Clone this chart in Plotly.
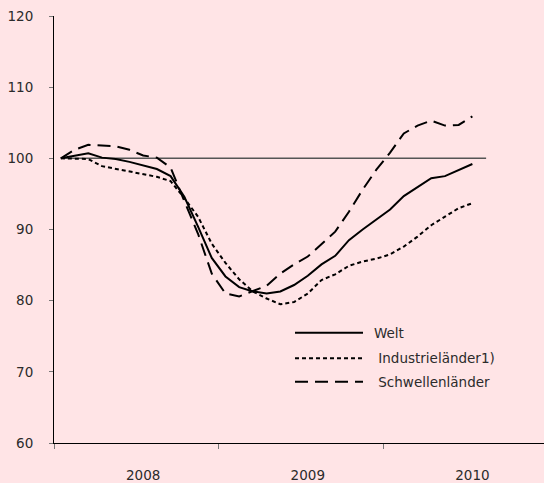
import plotly.graph_objects as go

# Monthly index values, Jan 2008 .. Jul 2010 (2008 = 100 start)
months = list(range(31))
welt = [100, 100.4, 100.7, 100.1, 99.9, 99.5, 99.0, 98.5, 97.5, 94.6, 90.4, 86.0, 83.4, 81.9,
        81.3, 81.0, 81.3, 82.2, 83.5, 85.1, 86.3, 88.5, 90.0, 91.4, 92.8, 94.7, 95.9, 97.2,
        97.5, 98.3, 99.2]
industrie = [100, 100.0, 99.9, 98.9, 98.5, 98.2, 97.8, 97.4, 96.8, 94.4, 91.8, 88.0, 85.3, 83.0,
             81.3, 80.3, 79.5, 79.8, 81.0, 82.9, 83.7, 84.9, 85.5, 85.9, 86.5, 87.6, 89.0, 90.6,
             91.8, 93.0, 93.7]
schwellen = [100, 101.2, 101.9, 101.8, 101.7, 101.2, 100.4, 100.1, 98.7, 94.0, 89.4, 83.8, 81.0,
             80.6, 81.4, 82.1, 83.8, 85.1, 86.2, 87.9, 89.7, 92.5, 95.6, 98.4, 100.8, 103.5,
             104.6, 105.3, 104.6, 104.7, 105.9]
baseline_x = [0, 31]
baseline_y = [100, 100]
year_labels = ["2008", "2009", "2010"]
year_label_pos = [6, 18, 30]
year_ticks = [0, 12, 24, 36]
series_names = ["Welt", " Industrieländer1)", " Schwellenländer"]

BG = "#FFE4E6"
FONT = "DejaVu Sans"
TXT = "#2b2b2b"

W, H = 544, 483
ML, MR, MT, MB = 54, 0, 16, 40
pw, ph = W - ML - MR, H - MT - MB

fig = go.Figure()
xc = lambda arr: [m + 0.5 for m in arr]

fig.add_trace(go.Scatter(x=xc(baseline_x), y=baseline_y, mode="lines",
                         line=dict(color="#555555", width=1.5), showlegend=False, hoverinfo="skip"))
styles = [dict(color="black", width=2, dash="solid"),
          dict(color="black", width=2, dash="4px,3px"),
          dict(color="black", width=2, dash="13px,7px")]
for name, ys, st in zip(series_names, [welt, industrie, schwellen], styles):
    fig.add_trace(go.Scatter(x=xc(months), y=ys, mode="lines", name=name,
                             line=st, showlegend=False))

# manual legend
def px_to_paper(x, y):
    return (x - ML) / pw, (H - MB - y) / ph

rows_y = [332.7, 358.3, 381.7]
for name, st, ry in zip(series_names, styles, rows_y):
    x0, y0 = px_to_paper(295, ry)
    x1, _ = px_to_paper(363, ry)
    fig.add_shape(type="line", xref="paper", yref="paper", x0=x0, x1=x1, y0=y0, y1=y0,
                  line=dict(color="black", width=2, dash=st["dash"]))
    tx, _ = px_to_paper(371.5, ry)
    fig.add_annotation(xref="paper", yref="paper", x=tx, y=y0, text=name.replace(" ", "&nbsp;"),
                       showarrow=False, xanchor="left", yanchor="middle",
                       font=dict(family=FONT, size=13.5, color=TXT))

fig.update_layout(
    width=W, height=H,
    margin=dict(l=ML, r=MR, t=MT, b=MB, autoexpand=False),
    paper_bgcolor=BG, plot_bgcolor=BG,
    font=dict(family=FONT, size=13, color=TXT),
    showlegend=False,
    xaxis=dict(range=[0, 35.72], showgrid=False, zeroline=False, automargin=False,
               showline=True, linecolor="black", linewidth=1,
               tickvals=[p + 0.5 for p in year_label_pos], ticktext=year_labels,
               ticks="", ticklabelstandoff=20,
               minor=dict(tickvals=year_ticks, ticks="outside", ticklen=5,
                          tickcolor="#777777", tickwidth=1),
               tickfont=dict(family=FONT, size=13.5, color=TXT)),
    yaxis=dict(range=[60, 120], showgrid=False, zeroline=False, automargin=False,
               showline=True, linecolor="black", linewidth=1,
               tickvals=[60, 70, 80, 90, 100, 110, 120],
               ticks="outside", ticklen=4, tickcolor="#777777",
               ticklabelstandoff=13,
               tickfont=dict(family=FONT, size=13.5, color=TXT)),
)

fig.write_html("out.html", config={"displayModeBar": False},
               post_script="document.body.style.margin='0';document.body.style.background='" + BG + "';")
